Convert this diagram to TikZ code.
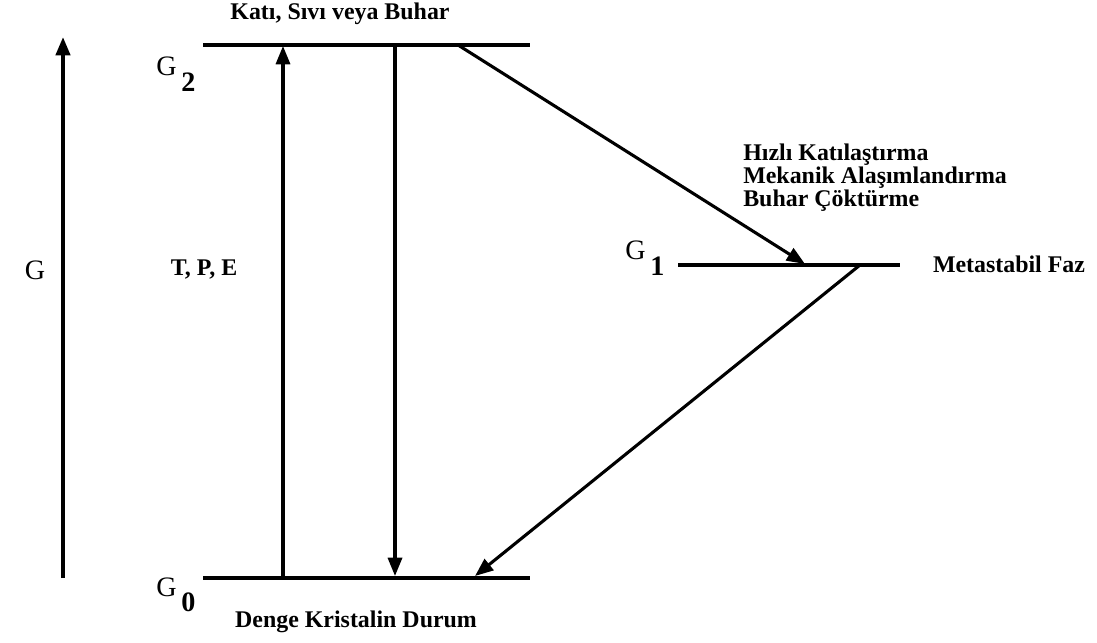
\documentclass[tikz,border=0pt]{standalone}
\usepackage{fontspec}
\setmainfont{Liberation Serif}
\usetikzlibrary{arrows.meta}
\tikzset{
  level/.style={line width=2.8pt},
  trans/.style={line width=2.2pt, -{Triangle[length=13pt,width=10pt]}},
  lbl/.style={font=\fontsize{17}{20}\selectfont\bfseries, inner sep=0pt},
  glbl/.style={font=\fontsize{20}{22}\selectfont, inner sep=0pt}
}
\newcommand{\gsub}[1]{G\,\raisebox{-0.55em}{\textbf{#1}}}
\begin{document}
\begin{tikzpicture}[x=0.025cm, y=-0.025cm]
    \useasboundingbox (0,0) rectangle (1097,643);
    % Energy levels
    \coordinate (g2a) at (203,45);  \coordinate (g2b) at (530,45);
    \coordinate (g1a) at (678,265); \coordinate (g1b) at (900,265);
    \coordinate (g0a) at (203,578); \coordinate (g0b) at (530,578);
    \draw[level] (g2a) -- (g2b);
    \draw[level] (g1a) -- (g1b);
    \draw[level] (g0a) -- (g0b);
    % Free energy axis
    \coordinate (gbot) at (63,578);
    \coordinate (gtop) at (63,37);
    \draw[trans, line width=2.8pt] (gbot) -- (gtop);
    \node[glbl] (glab) at (35,270) {G};
    % Level labels
    \node[glbl] (g2lab) at (176,74) {\gsub{2}};
    \node[glbl] (g1lab) at (645,258) {\gsub{1}};
    \node[glbl] (g0lab) at (176,595) {\gsub{0}};
    \node[lbl] (top) at (340,14) {Katı, Sıvı veya Buhar};
    \node[lbl] (bot) at (356,622) {Denge Kristalin Durum};
    \node[lbl] (meta) at (1009,264) {Metastabil Faz};
    \node[lbl] (tpe) at (204,270) {T, P, E};
    \node[lbl, align=left, anchor=west, font=\fontsize{17}{16.3}\selectfont\bfseries] (proc) at (743,178)
      {Hızlı Katılaştırma\\Mekanik Alaşımlandırma\\Buhar Çöktürme};
    % Transitions
    \coordinate (upa) at (283,578); \coordinate (upb) at (283,46);
    \coordinate (dna) at (395,45);  \coordinate (dnb) at (395,576);
    \coordinate (d1a) at (458,45);  \coordinate (d1b) at (805,264);
    \coordinate (d2a) at (860,265); \coordinate (d2b) at (475,576);
    \draw[trans] (upa) -- (upb);
    \draw[trans] (dna) -- (dnb);
    \draw[trans] (d1a) -- (d1b);
    \draw[trans] (d2a) -- (d2b);
\end{tikzpicture}
\end{document}
